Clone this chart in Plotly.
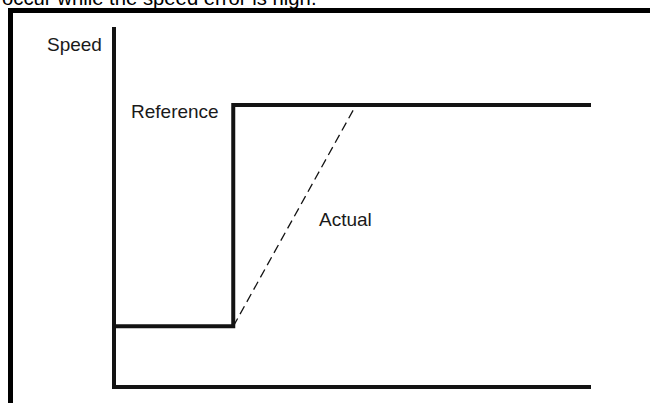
import plotly.graph_objects as go

# ---- data (arbitrary units) ----
ref_time = [0, 1, 1, 4]
ref_speed = [21.5, 21.5, 100, 100]
act_time = [1, 2.03]
act_speed = [21.5, 100]
labels = ["Speed", "Reference", "Actual"]
caption = "occur while the speed error is high."

# ---- layout constants (pixels) ----
W, H = 650, 403
LINE = "#131313"
FONT = "Liberation Sans, Arial, sans-serif"

# axis mapping: time 0 -> x=114px, time 4 -> x=591px ; speed 0 -> y=387px, speed 100 -> y=105px
kx = (591 - 114) / 4.0
ky = (387 - 105) / 100.0
plot_l, plot_r, plot_t, plot_b = 116, 591, 27, 385
xr = [(plot_l - 114) / kx, (plot_r - 114) / kx]
yr = [(387 - plot_b) / ky, (387 - plot_t) / ky]

def px(x):
    return x / W

def py(y):
    return 1 - y / H

fig = go.Figure()
fig.add_trace(go.Scatter(x=act_time, y=act_speed, mode="lines",
                         line=dict(color=LINE, width=1.3, dash="9px,5px"),
                         hoverinfo="skip", showlegend=False))
fig.add_trace(go.Scatter(x=ref_time, y=ref_speed, mode="lines",
                         line=dict(color=LINE, width=4),
                         hoverinfo="skip", showlegend=False))

fig.update_layout(
    width=W, height=H,
    margin=dict(l=0, r=0, t=0, b=0),
    paper_bgcolor="white", plot_bgcolor="white",
    xaxis=dict(domain=[px(plot_l), px(plot_r)], range=xr, showgrid=False,
               zeroline=False, showticklabels=False, ticks="",
               showline=True, linecolor=LINE, linewidth=4, fixedrange=True),
    yaxis=dict(domain=[py(plot_b), py(plot_t)], range=yr, showgrid=False,
               zeroline=False, showticklabels=False, ticks="",
               showline=True, linecolor=LINE, linewidth=4, fixedrange=True),
    font=dict(family=FONT, size=19, color="#1a1a1a"),
)

# outer frame (left and top edges of a box cut off by the page)
fig.add_shape(type="path", xref="paper", yref="paper",
              path=f"M {px(10.5)},{py(405)} L {px(10.5)},{py(10.5)} L {px(652)},{py(10.5)}",
              line=dict(color="black", width=5))

fig.add_annotation(text=labels[0], xref="paper", yref="paper", x=px(103.5), y=py(44),
                   xanchor="right", yanchor="middle", showarrow=False)
fig.add_annotation(text=labels[1], xref="paper", yref="paper", x=px(129), y=py(112),
                   xanchor="left", yanchor="middle", showarrow=False)
fig.add_annotation(text=labels[2], xref="paper", yref="paper", x=px(317), y=py(219),
                   xanchor="left", yanchor="middle", showarrow=False)
fig.add_annotation(text=caption, xref="paper", yref="paper", x=px(0), y=py(-2.5),
                   xanchor="left", yanchor="middle", showarrow=False,
                   font=dict(size=20.3, color="black"))

fig.write_html("out.html", config={"displayModeBar": False},
               post_script="document.body.style.margin='0';document.body.style.overflow='hidden';")
